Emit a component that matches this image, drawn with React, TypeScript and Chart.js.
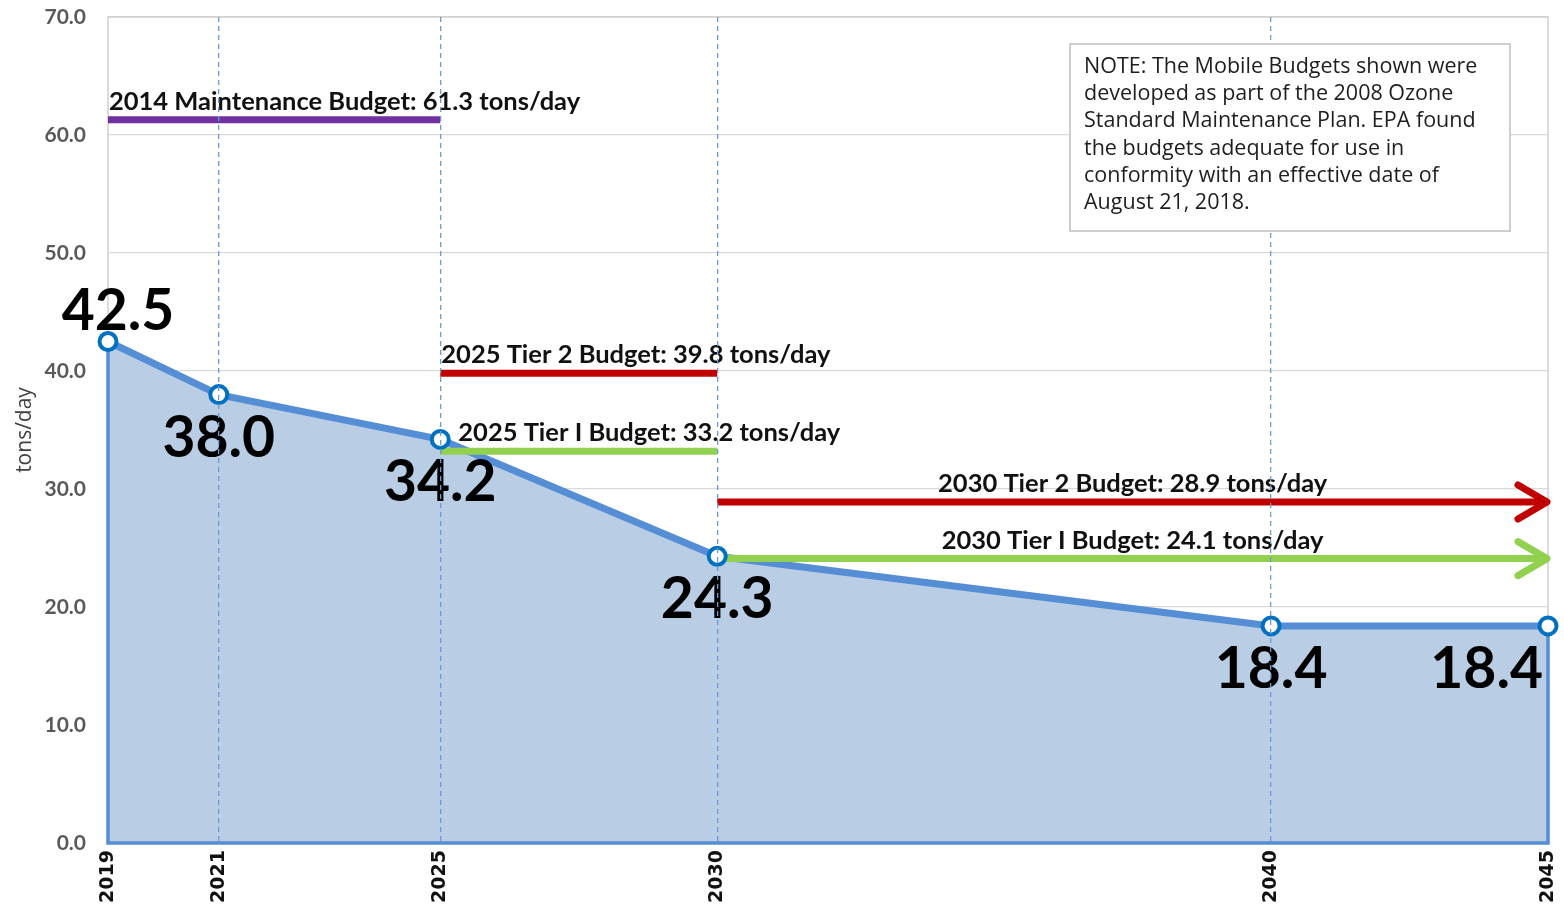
import React, { useEffect, useRef } from 'react';
import { Chart, registerables } from 'chart.js';

Chart.register(...registerables);

// ---- data ----
const years = [2019, 2021, 2025, 2030, 2040, 2045];
const emissions = [42.5, 38.0, 34.2, 24.3, 18.4, 18.4];
const yTicks = [0, 10, 20, 30, 40, 50, 60, 70];

const budgetNames = [
  '2014 Maintenance Budget',
  '2025 Tier 2 Budget',
  '2025 Tier I Budget',
  '2030 Tier 2 Budget',
  '2030 Tier I Budget',
];
const budgetValues = [61.3, 39.8, 33.2, 28.9, 24.1];
const budgetStart = [2019, 2025, 2025, 2030, 2030];
const budgetEnd = [2025, 2030, 2030, 2045, 2045];

const noteLines = [
  'NOTE: The Mobile Budgets shown were',
  'developed as part of the 2008 Ozone',
  'Standard Maintenance Plan. EPA found',
  'the budgets adequate for use in',
  'conformity with an effective date of',
  'August 21, 2018.',
];

// ---- styles ----
const budgetColors = ['#7030A0', '#C00000', '#92D050', '#C00000', '#92D050'];
const LINE_BLUE = '#558ED5';
const FILL_BLUE = '#B9CDE5';
const POINT_BLUE = '#0070C0';
const GRID_DASH_BLUE = '#6A9AD8';

const overlayPlugin = {
  id: 'overlay',
  beforeDatasetsDraw(chart: any) {
    const { ctx, chartArea } = chart;
    ctx.save();
    ctx.strokeStyle = '#D0D0D0';
    ctx.lineWidth = 1.5;
    ctx.strokeRect(chartArea.left, chartArea.top, chartArea.right - chartArea.left, chartArea.bottom - chartArea.top);
    ctx.restore();
  },
  beforeDatasetDraw(chart: any, args: any) {
    if (args.index !== 0) return;
    const { ctx } = chart;
    const xs = chart.scales.x;
    const ys = chart.scales.y;
    const n = years.length - 1;
    ctx.save();
    ctx.strokeStyle = LINE_BLUE;
    ctx.lineWidth = 3.5;
    ctx.beginPath();
    ctx.moveTo(xs.getPixelForValue(years[0]), ys.getPixelForValue(emissions[0]));
    ctx.lineTo(xs.getPixelForValue(years[0]), ys.getPixelForValue(0));
    ctx.lineTo(xs.getPixelForValue(years[n]), ys.getPixelForValue(0));
    ctx.lineTo(xs.getPixelForValue(years[n]), ys.getPixelForValue(emissions[n]));
    ctx.stroke();
    ctx.restore();
  },
  afterDatasetsDraw(chart: any) {
    const { ctx } = chart;
    const xs = chart.scales.x;
    const ys = chart.scales.y;
    const lastYear = years[years.length - 1];
    ctx.save();
    // arrowheads for open-ended budgets
    budgetValues.forEach((v, i) => {
      if (budgetEnd[i] !== lastYear) return;
      const tx = xs.getPixelForValue(budgetEnd[i]);
      const ty = ys.getPixelForValue(v);
      ctx.strokeStyle = budgetColors[i];
      ctx.lineWidth = 7;
      ctx.lineCap = 'round';
      ctx.lineJoin = 'round';
      ctx.beginPath();
      ctx.moveTo(tx - 30, ty - 17);
      ctx.lineTo(tx - 1, ty);
      ctx.lineTo(tx - 30, ty + 17);
      ctx.stroke();
    });
    // budget labels
    ctx.fillStyle = '#111';
    ctx.font = 'bold 25.5px Lato';
    ctx.textBaseline = 'alphabetic';
    budgetValues.forEach((v, i) => {
      const x0 = xs.getPixelForValue(budgetStart[i]);
      const x1 = xs.getPixelForValue(budgetEnd[i]);
      const y = ys.getPixelForValue(v);
      const text = `${budgetNames[i]}: ${v.toFixed(1)} tons/day`;
      if (budgetEnd[i] === lastYear) {
        ctx.textAlign = 'center';
        ctx.fillText(text, (x0 + x1) / 2, y - 10);
      } else {
        ctx.textAlign = 'left';
        const shift = budgetStart[i] === 2025 && v < 35 ? 18 : 1;
        ctx.fillText(text, x0 + shift, y - 10);
      }
    });
    // value labels
    ctx.font = 'bold 57px Lato';
    ctx.fillStyle = '#000';
    emissions.forEach((v, i) => {
      const px = xs.getPixelForValue(years[i]);
      const py = ys.getPixelForValue(v);
      const text = v.toFixed(1);
      if (i === 0) {
        ctx.textAlign = 'center';
        ctx.fillText(text, px + 10, py - 12);
      } else if (i === emissions.length - 1) {
        ctx.textAlign = 'right';
        ctx.fillText(text, px - 5, py + 62);
      } else {
        ctx.textAlign = 'center';
        ctx.fillText(text, px, py + 62);
      }
    });
    ctx.restore();
  },
  afterDraw(chart: any) {
    const { ctx, chartArea } = chart;
    const bx = chartArea.right - 478;
    const by = chartArea.top + 27;
    const bw = 440;
    const bh = 187;
    ctx.save();
    ctx.fillStyle = '#FFFFFF';
    ctx.fillRect(bx, by, bw, bh);
    ctx.strokeStyle = '#BFBFBF';
    ctx.lineWidth = 1.5;
    ctx.strokeRect(bx, by, bw, bh);
    ctx.fillStyle = '#1E1E1E';
    ctx.font = '21.5px "Open Sans"';
    ctx.textAlign = 'left';
    ctx.textBaseline = 'alphabetic';
    noteLines.forEach((line, i) => {
      ctx.fillText(line, bx + 14, by + 29 + i * 27.2);
    });
    ctx.restore();
  },
};

export default function App() {
  const canvasRef = useRef<HTMLCanvasElement | null>(null);

  useEffect(() => {
    document.body.style.margin = '0';
    const canvas = canvasRef.current;
    if (!canvas) return;
    const first = years[0];
    const last = years[years.length - 1];

    const points = years.map((x, i) => ({ x, y: emissions[i] }));
    const budgetSets = budgetValues.map((v, i) => ({
      type: 'line' as const,
      label: budgetNames[i],
      data: [
        { x: budgetStart[i], y: v },
        { x: budgetEnd[i], y: v },
      ],
      borderColor: budgetColors[i],
      borderWidth: 7,
      borderCapStyle: 'butt' as const,
      pointRadius: 0,
      fill: false,
      order: 5,
    }));

    const chart = new Chart(canvas, {
      type: 'line',
      data: {
        datasets: [
          {
            label: 'Emissions',
            data: points,
            borderColor: LINE_BLUE,
            borderWidth: 7,
            backgroundColor: FILL_BLUE,
            fill: 'origin',
            pointRadius: 0,
            tension: 0,
            order: 10,
          },
          ...budgetSets,
          {
            label: 'Points',
            data: points,
            showLine: false,
            pointRadius: 8.5,
            pointBorderWidth: 4,
            pointBackgroundColor: '#FFFFFF',
            pointBorderColor: POINT_BLUE,
            clip: false,
            order: -1,
          } as any,
        ],
      },
      options: {
        responsive: false,
        animation: false,
        events: [],
        layout: { padding: { top: 17, right: 16, left: 0, bottom: 0 } },
        plugins: {
          legend: { display: false },
          tooltip: { enabled: false },
        },
        scales: {
          x: {
            type: 'linear',
            min: first,
            max: last,
            afterBuildTicks: (s: any) => {
              s.ticks = years.map((v) => ({ value: v }));
            },
            afterFit: (s: any) => {
              s.height = 64;
              s.paddingLeft = 0;
              s.paddingRight = 0;
              s.paddingTop = 0;
              s.paddingBottom = 0;
            },
            ticks: {
              autoSkip: false,
              minRotation: 90,
              maxRotation: 90,
              padding: 7,
              color: '#111',
              font: { family: '"DejaVu Sans"', size: 19, weight: 'bold' },
              callback: (v: any) => String(v),
            },
            grid: {
              drawTicks: false,
              lineWidth: 1.3,
              z: 1,
              color: (c: any) =>
                c.tick && (c.tick.value === first || c.tick.value === last)
                  ? 'rgba(0,0,0,0)'
                  : GRID_DASH_BLUE,
            },
            border: { display: false, dash: [5, 4] },
          },
          y: {
            type: 'linear',
            min: 0,
            max: 70,
            afterBuildTicks: (s: any) => {
              s.ticks = yTicks.map((v) => ({ value: v }));
            },
            afterFit: (s: any) => {
              s.width = 108;
              s.paddingLeft = 0;
              s.paddingRight = 0;
              s.paddingTop = 0;
              s.paddingBottom = 0;
            },
            ticks: {
              padding: 22,
              color: '#595959',
              font: { family: 'Lato', size: 21, weight: 'bold' },
              callback: (v: any) => Number(v).toFixed(1),
            },
            grid: {
              drawTicks: false,
              color: '#D9D9D9',
              lineWidth: 1.3,
            },
            border: { display: false },
            title: {
              display: true,
              text: 'tons/day',
              color: '#404040',
              font: { family: '"Open Sans"', size: 21 },
              padding: { top: 12, bottom: 0 },
            },
          },
        },
      },
      plugins: [overlayPlugin],
    });

    return () => {
      chart.destroy();
    };
  }, []);

  return (
    <canvas
      ref={canvasRef}
      width={1564}
      height={907}
      style={{ position: 'fixed', left: 0, top: 0, display: 'block' }}
    />
  );
}
